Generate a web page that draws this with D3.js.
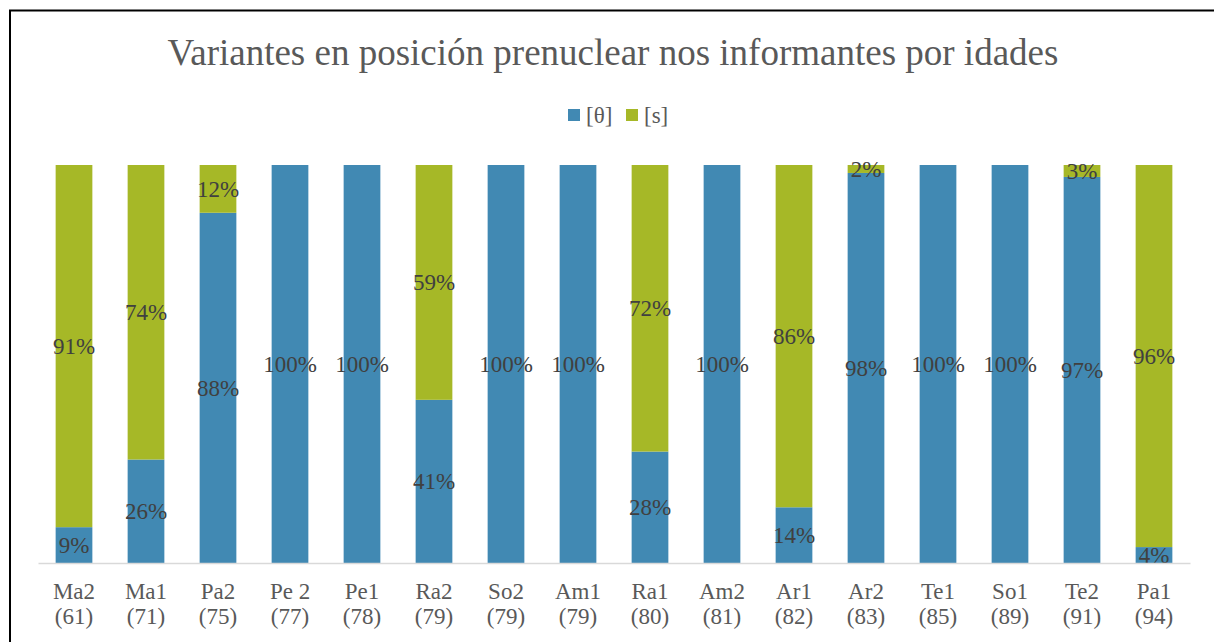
<html>

<head>
    <script src="https://d3js.org/d3.v7.min.js"></script>
    <style>
        body { margin: 0; background: #fff; }
    </style>
</head>

<body>
    <div id="vis"></div>
</body>

<script>

    // data
    var speakers = ["Ma2", "Ma1", "Pa2", "Pe 2", "Pe1", "Ra2", "So2", "Am1", "Ra1", "Am2", "Ar1", "Ar2", "Te1", "So1", "Te2", "Pa1"];
    var ages = ["61", "71", "75", "77", "78", "79", "79", "79", "80", "81", "82", "83", "85", "89", "91", "94"];
    var theta = [9, 26, 88, 100, 100, 41, 100, 100, 28, 100, 14, 98, 100, 100, 97, 4];
    var sVals = [91, 74, 12, 0, 0, 59, 0, 0, 72, 0, 86, 2, 0, 0, 3, 96];
    var seriesNames = ["[θ]", "[s]"];
    var colors = ["#4189b3", "#a6b827"];

    var FONT = "'Liberation Serif', 'Times New Roman', 'DejaVu Serif', serif";
    var W = 1214, H = 642;
    var svg = d3.select("#vis")
        .append("svg")
        .attr("width", W)
        .attr("height", H)
        .style("font-family", FONT);

    // frame (only top and left edges show in the picture)
    svg.append("rect")
        .attr("x", 10).attr("y", 10.5)
        .attr("width", W + 20).attr("height", H + 20)
        .attr("fill", "none")
        .attr("stroke", "#000")
        .attr("stroke-width", 2);

    // title
    svg.append("text")
        .attr("x", 613)
        .attr("y", 65)
        .attr("text-anchor", "middle")
        .attr("font-family", FONT)
        .style("font-family", FONT)
        .style("font-size", "37px")
        .style("fill", "#595959")
        .text("Variantes en posición prenuclear nos informantes por idades");

    // legend
    var legendX = [568, 626];
    seriesNames.forEach(function (name, i) {
        svg.append("rect")
            .attr("x", legendX[i]).attr("y", 109)
            .attr("width", 12).attr("height", 12)
            .attr("fill", colors[i]);
        svg.append("text")
            .attr("x", legendX[i] + 18)
            .attr("y", 123)
            .style("font-family", FONT)
            .style("font-size", "23px")
            .style("fill", "#595959")
            .text(name);
    });

    var x = d3.scaleBand()
        .domain(speakers)
        .range([38, 1190])
        .paddingInner(0.49)
        .paddingOuter(0.245);

    var y = d3.scaleLinear()
        .domain([0, 100])
        .range([563, 165]);

    var rows = speakers.map(function (d, i) {
        return { name: d, theta: theta[i], s: sVals[i] };
    });

    var stack = d3.stack().keys(["theta", "s"]);
    var layers = stack(rows);

    var g = svg.append("g");

    layers.forEach(function (layer, k) {
        g.selectAll(".seg" + k)
            .data(layer)
            .enter()
            .append("rect")
            .attr("x", function (d) { return x(d.data.name); })
            .attr("y", function (d) { return y(d[1]); })
            .attr("width", x.bandwidth())
            .attr("height", function (d) { return y(d[0]) - y(d[1]); })
            .attr("fill", colors[k]);
    });

    // value labels
    layers.forEach(function (layer, k) {
        g.selectAll(".lab" + k)
            .data(layer.filter(function (d) { return d[1] - d[0] > 0; }))
            .enter()
            .append("text")
            .attr("x", function (d) { return x(d.data.name) + x.bandwidth() / 2; })
            .attr("y", function (d) { return (y(d[0]) + y(d[1])) / 2; })
            .attr("dy", "0.35em")
            .attr("text-anchor", "middle")
            .style("font-family", FONT)
            .style("font-size", "23px")
            .style("fill", "#404040")
            .text(function (d) { return (d[1] - d[0]) + "%"; });
    });

    // x axis
    var xAxis = svg.append("g")
        .attr("transform", "translate(0,563)")
        .call(d3.axisBottom(x).tickSize(0).tickFormat(""));
    xAxis.attr("font-family", null).attr("font-size", null);
    xAxis.select(".domain")
        .attr("stroke", "#d9d9d9")
        .attr("stroke-width", 1.5);

    xAxis.selectAll(".tick").each(function (d, i) {
        var t = d3.select(this).append("text")
            .attr("text-anchor", "middle")
            .style("font-family", FONT)
            .style("font-size", "23px")
            .style("fill", "#595959");
        t.append("tspan").attr("x", 0).attr("y", 36).text(d);
        t.append("tspan").attr("x", 0).attr("y", 61).text("(" + ages[i] + ")");
    });

</script>

</html>
